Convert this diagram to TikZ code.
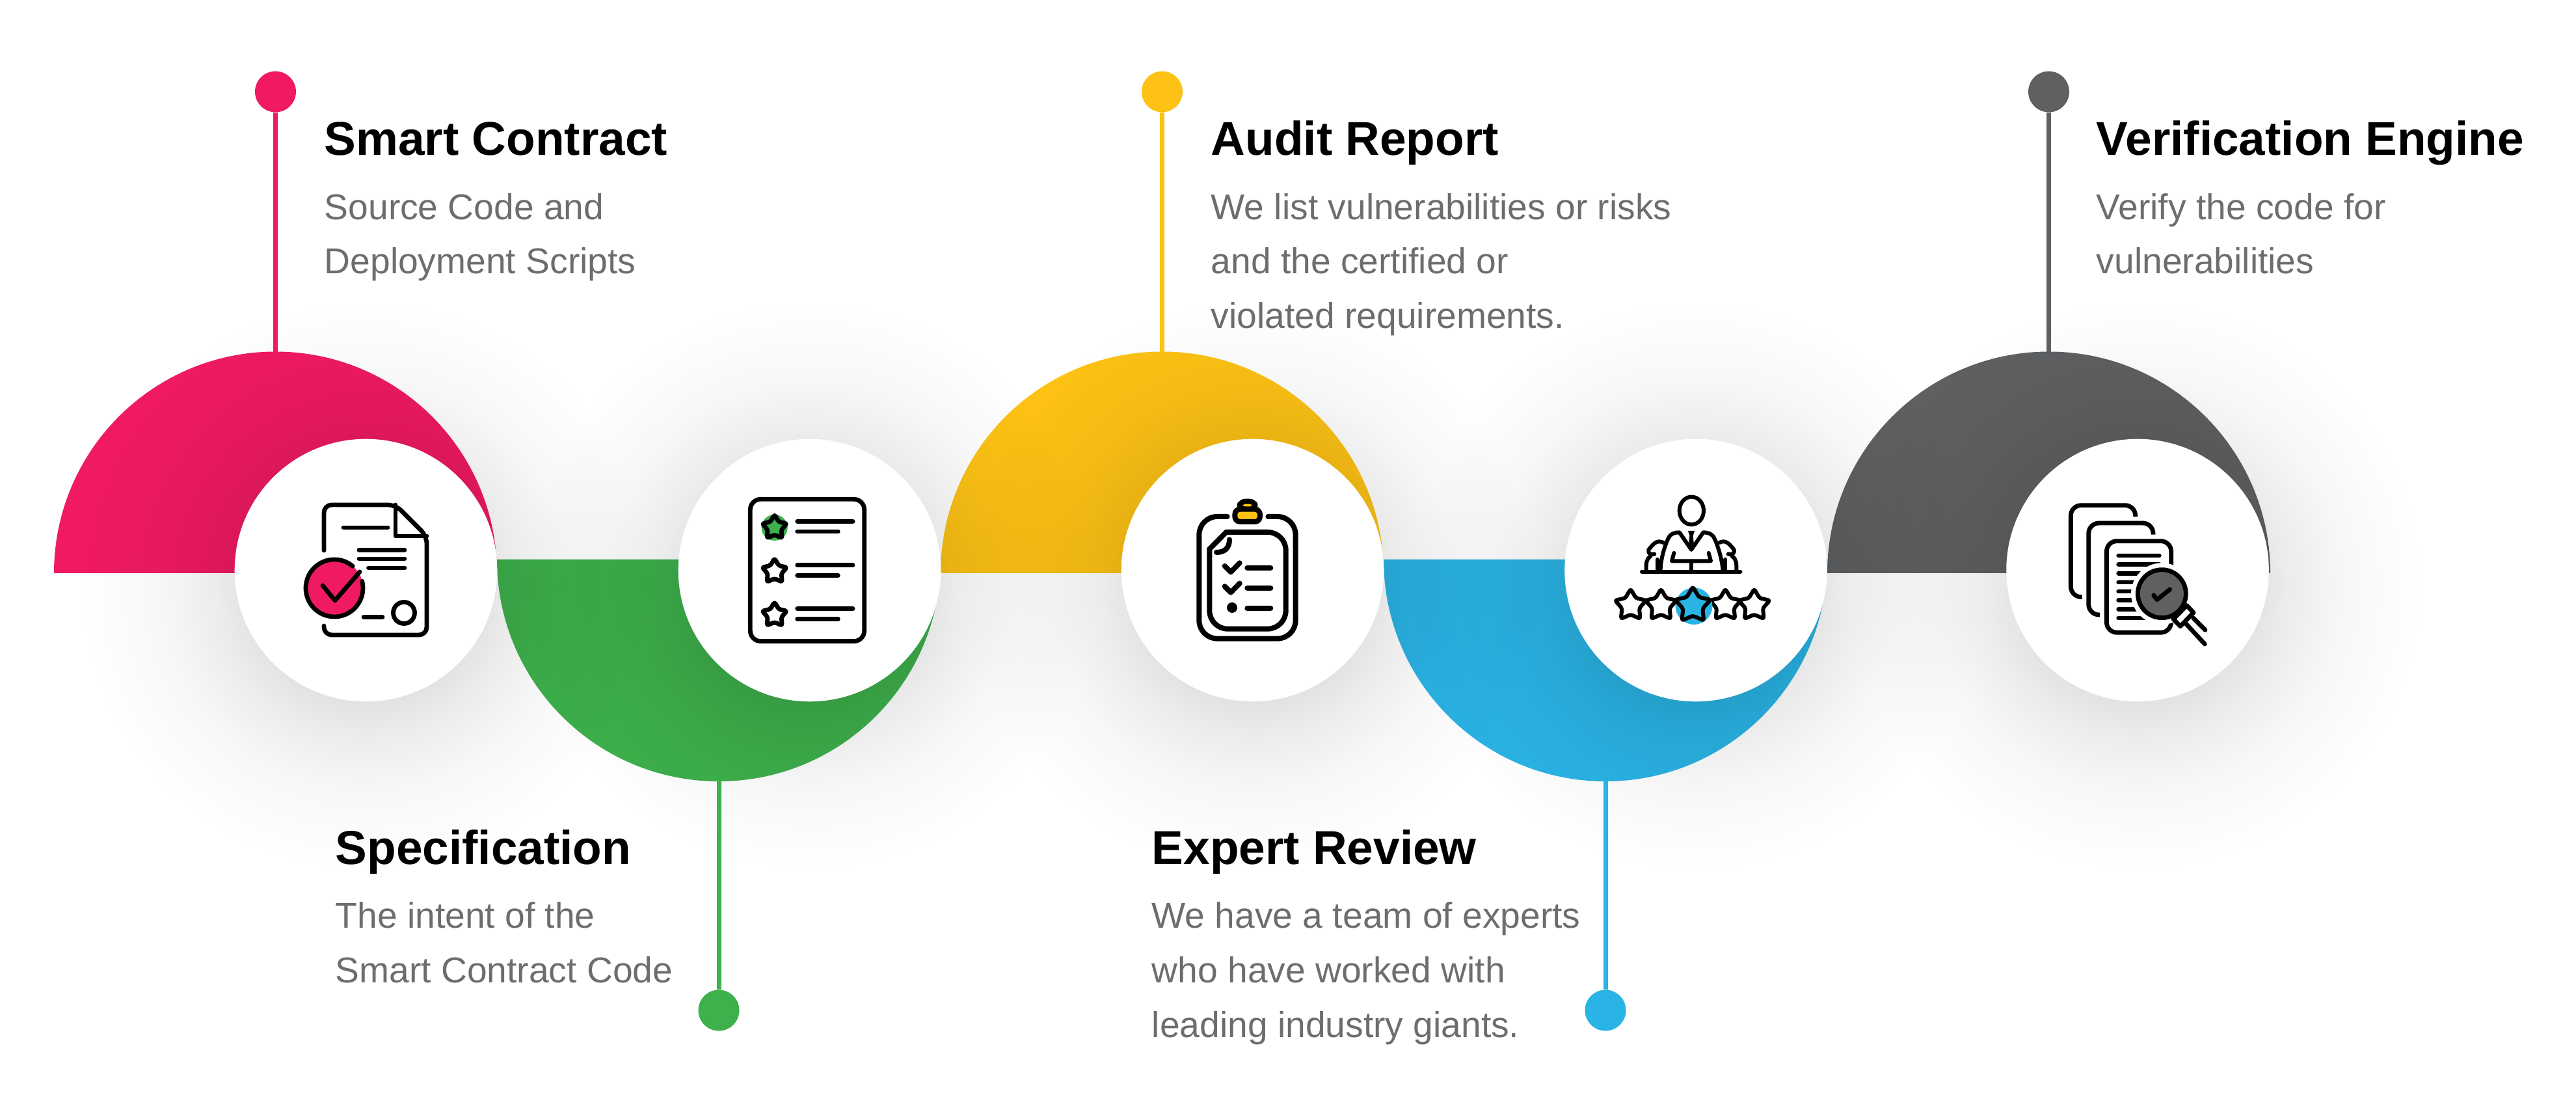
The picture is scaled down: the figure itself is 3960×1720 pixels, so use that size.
\documentclass[tikz,border=0pt]{standalone}
\usepackage{fontspec}
\setmainfont{Liberation Sans}
\usepackage{xcolor}
\usetikzlibrary{calc,fadings,positioning}
\definecolor{pinkc}{HTML}{EF1A62}
\definecolor{greenc}{HTML}{3EB04C}
\definecolor{yellowc}{HTML}{FDC215}
\definecolor{bluec}{HTML}{2AB4E5}
\definecolor{darkc}{HTML}{5E6062}
\definecolor{bodyc}{HTML}{6D6D6D}
\pgfdeclareradialshading{softglowshade}{\pgfpointorigin}{gray(0bp)=(0.2); gray(7bp)=(0.13); gray(10.2bp)=(0.075); gray(14.1bp)=(0.03); gray(19.6bp)=(0); gray(50bp)=(0)}
\pgfdeclarefading{softglow}{\pgfuseshading{softglowshade}}
\tikzset{
  hub/.style={circle,fill=white,minimum size=100.9pt,inner sep=0pt},
  dot/.style={circle,minimum size=15.75pt,inner sep=0pt},
  stem/.style={line width=1.75pt},
  titletext/.style={anchor=base west,inner sep=0pt,font=\fontsize{18.25}{20}\bfseries\selectfont},
  bodytext/.style={anchor=base west,inner sep=0pt,text=bodyc,font=\fontsize{13.8}{21}\selectfont},
  ink/.style={draw=black,line width=1.7pt,line cap=round,line join=round},
  zoomed/.style={x=0.08333pt,y=-0.08333pt}
}
\newcommand{\iconstar}[4]{\draw[ink,fill=#4,rounded corners=0.8pt,shift={(#1,#2)}] (-90:#3)--(-126:0.55*#3)--(-162:#3)--(-198:0.55*#3)--(-234:#3)--(-270:0.55*#3)--(-306:#3)--(-342:0.55*#3)--(-378:#3)--(-414:0.55*#3)--cycle;}

\begin{document}
\begin{tikzpicture}[x=0.25pt,y=-0.25pt]
\path[use as bounding box,fill=white] (0,0) rectangle (3960,1720);
\fill[pinkc] (83,881) arc[start angle=-180,end angle=0,radius=340.5] -- cycle;
\fill[greenc] (764,860) arc[start angle=180,end angle=0,radius=341] -- cycle;
\fill[yellowc] (1446,881) arc[start angle=-180,end angle=0,radius=340.5] -- cycle;
\fill[bluec] (2127,860) arc[start angle=180,end angle=0,radius=341] -- cycle;
\fill[darkc] (2809,881) arc[start angle=-180,end angle=0,radius=340.5] -- cycle;
\fill[black,path fading=softglow] (562,900) circle [radius=560];
\fill[black,path fading=softglow] (1244,900) circle [radius=560];
\fill[black,path fading=softglow] (1925,900) circle [radius=560];
\fill[black,path fading=softglow] (2607,900) circle [radius=560];
\fill[black,path fading=softglow] (3286,900) circle [radius=560];
\node[hub] (pinkhub) at (562.5,876.5) {};
\node[hub] (greenhub) at (1244.5,876.5) {};
\node[hub] (yellowhub) at (1925.5,876.5) {};
\node[hub] (bluehub) at (2607,876.5) {};
\node[hub] (darkhub) at (3286,876.5) {};
\node[dot,fill=pinkc] (pinkdot) at (423.5,141) {};
\node[dot,fill=greenc] (greendot) at (1105,1553) {};
\node[dot,fill=yellowc] (yellowdot) at (1786.5,141) {};
\node[dot,fill=bluec] (bluedot) at (2468,1553) {};
\node[dot,fill=darkc] (darkdot) at (3149.5,141) {};
\coordinate (pinktop) at (423.5,541);
\coordinate (greentop) at (1105,1200);
\coordinate (yellowtop) at (1786.5,541);
\coordinate (bluetop) at (2468,1200);
\coordinate (darktop) at (3149.5,541);
\draw[stem,pinkc] (pinkdot) -- (pinktop);
\draw[stem,greenc] (greendot) -- (greentop);
\draw[stem,yellowc] (yellowdot) -- (yellowtop);
\draw[stem,bluec] (bluedot) -- (bluetop);
\draw[stem,darkc] (darkdot) -- (darktop);
\node[titletext] (smarttitle) at (498,239) {Smart Contract};
\node[bodytext] (smartone) at (498,338) {Source Code and};
\node[bodytext] (smarttwo) at (498,421) {Deployment Scripts};
\node[titletext] (spectitle) at (515,1328) {Specification};
\node[bodytext] (specone) at (515,1426) {The intent of the};
\node[bodytext] (spectwo) at (515,1510) {Smart Contract Code};
\node[titletext] (audittitle) at (1861,239) {Audit Report};
\node[bodytext] (auditone) at (1861,338) {We list vulnerabilities or risks};
\node[bodytext] (audittwo) at (1861,421) {and the certified or};
\node[bodytext] (auditthree) at (1861,505) {violated requirements.};
\node[titletext] (experttitle) at (1770,1328) {Expert Review};
\node[bodytext] (expertone) at (1770,1426) {We have a team of experts};
\node[bodytext] (experttwo) at (1770,1510) {who have worked with};
\node[bodytext] (expertthree) at (1770,1594) {leading industry giants.};
\node[titletext] (veriftitle) at (3222,239) {Verification Engine};
\node[bodytext] (verifone) at (3222,338) {Verify the code for};
\node[bodytext] (veriftwo) at (3222,421) {vulnerabilities};
\draw[ink,rounded corners=3pt] (498,846) -- (498,776) -- (608,776) -- (656,824) -- (656,976) -- (498,976) -- (498,962);
\draw[ink] (608,776) -- (608,824) -- (656,824);
\draw[ink] (528,811) -- (596,811);
\draw[ink] (552,845.5) -- (622,845.5);
\draw[ink] (552,859) -- (622,859);
\draw[ink] (566.5,873) -- (622,873);
\draw[ink] (559,948.5) -- (588,948.5);
\draw[ink] (621,942) circle [radius=16.5];
\fill[pinkc] (514,904) circle [radius=44];
\draw[ink] (514,904) ++(-50:44) arc[start angle=-50,end angle=-374,radius=44];
\draw[ink] (496,900) -- (515,923) -- (553,879);
\begin{scope}[shift={(1020,660)},zoomed]
\draw[ink,rounded corners=4pt] (400,322) rectangle (926,977);
\fill[greenc] (512,453) circle [radius=60];
\iconstar{512}{453}{60}{greenc}
\iconstar{512}{655}{60}{white}
\iconstar{512}{856}{60}{white}
\draw[ink] (617,424) -- (873,424);
\draw[ink] (617,471) -- (805,471);
\draw[ink] (617,626) -- (873,626);
\draw[ink] (617,673) -- (805,673);
\draw[ink] (617,827) -- (873,827);
\draw[ink] (617,875) -- (805,875);
\end{scope}
\begin{scope}[shift={(1720,660)},zoomed,ink/.append style={line width=2pt}]
\draw[ink,rounded corners=7pt] (500,402) -- (370,402) -- (370,965) -- (815,965) -- (815,402) -- (688,402);
\draw[ink,rounded corners=7pt] (495,474) -- (770,474) -- (770,920) -- (418,920) -- (418,552);
\draw[ink] (418,552) -- (495,474);
\draw[ink] (510,508) .. controls (510,545) and (490,567) .. (450,567);
\draw[ink,fill=yellowc,rounded corners=2pt] (558,332) rectangle (628,368);
\draw[ink,fill=yellowc,rounded corners=2pt] (535,368) rectangle (651,426);
\draw[ink] (488,630) -- (516,658) -- (557,616);
\draw[ink] (488,724) -- (516,752) -- (557,710);
\fill (522,822) circle [radius=24];
\draw[ink] (592,638) -- (700,638);
\draw[ink] (592,732) -- (700,732);
\draw[ink] (592,825) -- (700,825);
\end{scope}
\begin{scope}[shift={(2400,660)},zoomed,ink/.append style={line width=1.5pt}]
\draw[ink] (601,375) ellipse [x radius=56,y radius=64];
\draw[ink] (372,656) -- (826,656);
\draw[ink] (458,645) .. controls (460,590) and (480,530) .. (495,500) .. controls (505,480) and (525,475) .. (545,475) -- (600,555) -- (655,475) .. controls (675,475) and (695,480) .. (705,500) .. controls (720,530) and (740,590) .. (745,645);
\fill (585,468) -- (615,468) -- (608,490) -- (612,535) -- (600,552) -- (588,535) -- (592,490) -- cycle;
\draw[ink] (520,570) -- (510,607) -- (690,607) -- (680,570);
\draw[ink] (600,607) -- (600,650);
\draw[ink] (470,522) .. controls (445,510) and (430,520) .. (403,555) .. controls (400,575) and (415,580) .. (430,575);
\draw[ink] (412,585) .. controls (390,600) and (392,620) .. (392,650);
\draw[ink] (443,600) -- (443,645);
\draw[ink] (730,522) .. controls (755,510) and (770,520) .. (797,555) .. controls (800,575) and (785,580) .. (770,575);
\draw[ink] (788,585) .. controls (810,600) and (808,620) .. (808,650);
\draw[ink] (757,600) -- (757,645);
\iconstar{320}{812}{76}{white}
\iconstar{460}{812}{76}{white}
\iconstar{890}{812}{76}{white}
\iconstar{757}{812}{76}{white}
\fill[bluec] (612,815) circle [radius=85];
\iconstar{607}{812}{86}{bluec}
\end{scope}
\begin{scope}[shift={(3080,660)},zoomed]
\draw[ink,line cap=butt,rounded corners=4pt] (362,773) -- (310,773) -- (310,350) -- (608,350) -- (608,403);
\draw[ink,line cap=butt,rounded corners=4pt] (444,855) -- (392,855) -- (392,432) -- (690,432) -- (690,485);
\draw[ink,rounded corners=4pt] (475,515) rectangle (773,937);
\draw[ink] (530,582) -- (718,582);
\draw[ink] (530,623) -- (718,623);
\draw[ink] (530,664) -- (718,664);
\draw[ink] (530,705) -- (718,705);
\draw[ink] (530,747) -- (718,747);
\draw[ink] (530,788) -- (718,788);
\draw[ink] (530,829) -- (718,829);
\draw[ink] (530,870) -- (718,870);
\fill[white] (730,758) circle [radius=142];
\fill[white] (790,800) -- (800,930) -- (860,930) -- cycle;
\draw[ink] (875,870) -- (930,925);
\draw[ink] (840,895) -- (928,990);
\draw[ink,fill=white] (845,812) -- (876,845) -- (815,908) -- (783,875) -- cycle;
\draw[ink,fill=darkc] (730,758) circle [radius=111];
\draw[ink] (692,765) -- (708,785) -- (767,738);
\end{scope}
\end{tikzpicture}
\end{document}
